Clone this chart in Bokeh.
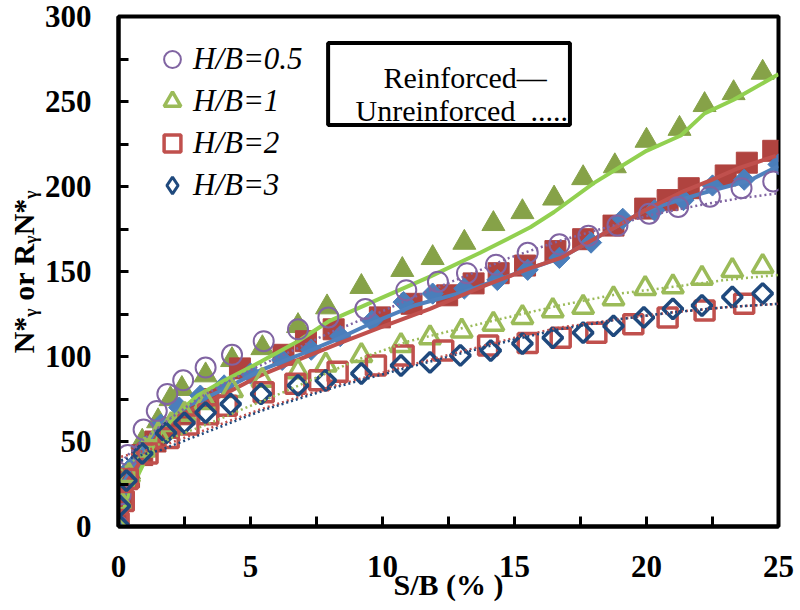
import math
from bokeh.plotting import figure
from bokeh.models import Range1d, FixedTicker, Legend, LegendItem, Label, BoxAnnotation
from bokeh.embed import file_html
from bokeh.resources import INLINE

# ---------------- data ----------------
x_ticks = [0, 5, 10, 15, 20, 25]
x_minor = [2.5, 7.5, 12.5, 17.5, 22.5]
y_ticks = [0, 50, 100, 150, 200, 250, 300]
y_minor = [25, 75, 125, 175, 225, 275]

# Unreinforced (open markers)
hb05_x = [0, 0.1, 0.35, 0.95, 1.45, 1.85, 2.45, 3.3, 4.3, 5.5, 6.8, 7.95, 9.35, 10.9, 12.1, 13.2, 14.3, 15.5, 16.7, 17.8, 18.9, 20.1, 21.2, 22.4, 23.6, 24.8]
hb05_y = [0, 19, 42, 57, 68, 78, 86, 93.5, 101, 109, 116, 123, 128, 139, 144, 149, 154, 161, 166, 171, 177, 184, 188, 194, 199, 203]

hb1_x = [0, 0.1, 0.4, 1.0, 1.5, 2.0, 2.5, 3.3, 4.3, 5.45, 6.8, 7.85, 9.2, 10.7, 11.8, 13.0, 14.2, 15.3, 16.45, 17.6, 18.75, 19.95, 21.0, 22.1, 23.25, 24.4]
hb1_y = [0, 14, 30, 45, 54, 60, 66, 73, 80, 86, 91, 95, 100.6, 106.5, 111, 115, 119, 123, 127, 129, 134, 140, 141, 146, 150.6, 153]

hb2_x = [0, 0.2, 0.35, 1.1, 1.9, 2.65, 3.4, 4.1, 5.5, 6.7, 7.6, 8.3, 9.75, 10.8, 12.3, 14.0, 15.5, 16.75, 18.1, 19.5, 20.8, 22.2, 23.7]
hb2_y = [2, 15, 28, 43, 52, 60, 66, 71, 79, 84, 86, 91, 94.7, 100.6, 103.5, 106.5, 108, 111, 114, 119, 123, 127, 131]

hb3_x = [0, 0.05, 0.3, 0.9, 1.8, 2.5, 3.3, 4.25, 5.4, 6.8, 7.85, 9.2, 10.7, 11.8, 12.95, 14.1, 15.3, 16.45, 17.6, 18.75, 19.9, 21.0, 22.1, 23.25, 24.4]
hb3_y = [1, 12, 27, 43, 55, 61, 67, 72, 78, 83, 86, 90, 94.7, 96.5, 100.6, 103.5, 107.6, 111, 114, 118, 123, 128, 130, 135, 137]

# Unreinforced trend lines (dotted)
t05_x = [0.1, 1, 2, 3, 4, 5, 6.8, 8, 9.9, 11.5, 13.1, 14.8, 16.7, 18.5, 20.1, 22, 23.5, 25]
t05_y = [38, 52, 64, 75, 84, 92, 105, 114, 126, 137, 147, 158, 168, 176, 183, 189, 193, 196]
t1_x = [0.1, 1, 2, 3.5, 5, 6.1, 8, 9.3, 11, 13.1, 15, 16.7, 19, 21, 23, 25]
t1_y = [33, 44, 52, 61, 71, 78, 91, 99.6, 109, 117, 124, 130, 137, 141, 145, 148]
t2_x = [0.1, 1.6, 3.5, 5.4, 8.0, 10.6, 13, 15, 16.7, 19, 21, 23, 25]
t2_y = [41, 47, 58, 69, 82, 93, 103, 111, 117, 122, 126, 129, 131]
t3_x = [0.1, 1.6, 3.5, 5.4, 8.0, 10.6, 13, 15, 16.7, 19, 21, 23, 25]
t3_y = [39, 45, 56.5, 68, 81, 92, 102, 110, 116, 122, 126, 129, 131]

# Reinforced (filled markers)
rf1_x = [0, 0.1, 0.4, 0.9, 1.5, 1.97, 2.4, 3.3, 4.3, 5.45, 6.8, 7.9, 9.2, 10.75, 11.9, 13.1, 14.2, 15.3, 16.5, 17.6, 18.8, 20.0, 21.25, 22.2, 23.3, 24.4]
rf1_y = [1, 15, 32, 50, 62, 75, 81, 89, 98, 105, 118, 129, 141, 151, 158, 167, 178, 185, 193, 205, 212, 227, 234, 248, 255, 267]
rf2_x = [0, 0.1, 0.4, 0.9, 1.4, 1.9, 2.5, 3.4, 4.6, 6.25, 7.1, 8.15, 9.9, 11.1, 12.45, 13.45, 14.4, 15.4, 16.55, 17.6, 18.75, 19.95, 20.8, 21.6, 23.0, 23.8, 24.8]
rf2_y = [2, 15, 29, 42, 50, 58, 66, 75, 93, 101, 109, 116, 123, 131, 136, 143, 149, 153.5, 162, 169, 177, 187, 192, 199, 206.5, 214, 221]
rf3_x = [0, 0.1, 0.5, 1.0, 1.6, 2.3, 3.1, 4.0, 5.0, 6.2, 7.3, 8.4, 9.6, 10.8, 11.9, 13.1, 14.35, 15.5, 16.7, 17.9, 19.1, 20.3, 21.4, 22.5, 23.7, 25.0]
rf3_y = [2, 22, 35, 47, 60, 70, 77, 83, 90, 98, 104, 112, 121, 132, 137, 140, 145, 151, 158, 167, 181, 186, 192, 200.6, 204, 213]

# Reinforced curves (solid)
l1_x = [0.15, 0.45, 0.95, 1.6, 2.2, 3.0, 3.9, 5.4, 6.8, 8.0, 9.9, 11.8, 13.7, 15.6, 16.5, 18.0, 20.0, 21.3, 22.2, 23.3, 25.0]
l1_y = [8, 21, 37, 55, 66, 77, 85, 97, 109, 121, 134, 147, 161, 176, 185, 202, 221, 230, 243, 251, 266]
l2_x = [0.05, 0.95, 1.6, 2.4, 3.9, 5.4, 6.8, 8.4, 9.9, 11.8, 13.7, 15.6, 16.75, 19.95, 21.3, 22.4, 23.45, 24.9]
l2_y = [20, 41, 56, 66, 77, 89, 98, 108, 117, 128, 140.6, 152, 158, 186, 196.5, 203.5, 210.6, 218]
l3_x = [0.05, 0.95, 1.6, 2.2, 3.2, 3.9, 5.4, 6.8, 8.4, 9.5, 11.2, 13.1, 14.35, 16.75, 19.95, 22.1, 23.9, 25.0]
l3_y = [22, 46, 60, 68, 75, 80, 92, 100.6, 111, 119, 130, 138, 145, 158, 186, 196, 203.5, 212]

labels = ["H/B=0.5", "H/B=1", "H/B=2", "H/B=3"]

# colours
C_PURPLE = "#8064A2"
C_LGREEN = "#9BBB59"
C_RED = "#C0504D"
C_NAVY = "#1F497D"
C_OLIVE = "#86A248"
C_DRED = "#B0433F"
C_BLUE = "#4A7EBB"
C_BGREEN = "#92D050"
C_LBLUE = "#4F81BD"

SERIF = "Liberation Serif"

p = figure(width=800, height=610, output_backend="svg", toolbar_location=None,
           x_range=Range1d(0, 25), y_range=Range1d(0, 300),
           min_border_left=118, min_border_right=22, min_border_top=16, min_border_bottom=84)
p.xgrid.visible = False
p.ygrid.visible = False
p.outline_line_color = "black"
p.outline_line_width = 4
p.background_fill_color = "white"
p.border_fill_color = "white"

for ax in (p.xaxis[0], p.yaxis[0]):
    ax.axis_line_width = 4
    ax.axis_line_color = "black"
    ax.major_tick_in = 10
    ax.major_tick_out = 0
    ax.minor_tick_in = 10
    ax.minor_tick_out = 0
    ax.major_tick_line_width = 3
    ax.minor_tick_line_width = 3
    ax.major_label_text_font = SERIF
    ax.major_label_text_font_style = "bold"
    ax.major_label_text_font_size = "31px"
    ax.major_label_text_color = "black"
    ax.axis_label_text_font = SERIF
    ax.axis_label_text_font_style = "bold"
    ax.axis_label_text_font_size = "30px"
    ax.axis_label_text_color = "black"
p.xaxis.ticker = FixedTicker(ticks=x_ticks, minor_ticks=x_minor)
p.yaxis.ticker = FixedTicker(ticks=y_ticks, minor_ticks=y_minor)
p.xaxis.major_label_standoff = 29
p.yaxis.major_label_standoff = 27
p.xaxis.axis_label = "S/B (% )"
p.xaxis.axis_label_standoff = -12
p.yaxis.axis_label = "N*\u1d67 or R\u1d67N*\u1d67"
p.yaxis.axis_label_standoff = 2

# reinforced markers
p.scatter(rf1_x, rf1_y, marker="triangle", size=23, fill_color=C_OLIVE, line_color=C_OLIVE)
p.scatter(rf2_x, rf2_y, marker="square", size=21, fill_color=C_DRED, line_color=C_DRED)
p.scatter(rf3_x, rf3_y, marker="square", angle=math.pi / 4, size=15, fill_color=C_BLUE, line_color=C_BLUE)
# reinforced curves
p.line(l3_x, l3_y, line_color=C_LBLUE, line_width=4)
p.line(l2_x, l2_y, line_color=C_RED, line_width=4)
p.line(l1_x, l1_y, line_color=C_BGREEN, line_width=4)

# unreinforced markers
r05 = p.scatter(hb05_x, hb05_y, marker="circle", size=20, fill_color=None, line_color=C_PURPLE, line_width=2)
r1 = p.scatter(hb1_x, hb1_y, marker="triangle", size=21, fill_color=None, line_color=C_LGREEN, line_width=3.5)
r2 = p.scatter(hb2_x, hb2_y, marker="square", size=19, fill_color=None, line_color=C_RED, line_width=3.5)
r3 = p.scatter(hb3_x, hb3_y, marker="square", angle=math.pi / 4, size=14, fill_color=None, line_color=C_NAVY, line_width=3.5)
# legend-only glyph for the diamond series (legend glyphs are drawn unrotated)
r3_key = p.scatter(hb3_x, hb3_y, marker="diamond", size=20, fill_color=None, line_color=C_NAVY,
                   line_width=3, visible=False)

# unreinforced trends
p.line(t05_x, t05_y, line_color=C_PURPLE, line_width=2.5, line_dash="2 3")
p.line(t1_x, t1_y, line_color=C_LGREEN, line_width=2.5, line_dash="2 3")
p.line(t2_x, t2_y, line_color=C_RED, line_width=2.5, line_dash="2 3")
p.line(t3_x, t3_y, line_color=C_NAVY, line_width=2.5, line_dash="2 3")

legend = Legend(items=[LegendItem(label=labels[0], renderers=[r05]),
                       LegendItem(label=labels[1], renderers=[r1]),
                       LegendItem(label=labels[2], renderers=[r2]),
                       LegendItem(label=labels[3], renderers=[r3_key])],
                location=(33, 320), padding=0, margin=0, spacing=0,
                glyph_width=42, glyph_height=42, label_height=42, label_standoff=-12,
                border_line_color=None, background_fill_alpha=0, inactive_fill_alpha=0,
                click_policy="none",
                label_text_font=SERIF, label_text_font_style="italic",
                label_text_font_size="31px", label_text_color="black")
p.add_layout(legend, "center")

# line-style key box
box = BoxAnnotation(left=7.94, right=17.10, top=284.4, bottom=236.2,
                    fill_color="white", fill_alpha=1, line_color="black", line_alpha=1, line_width=4)
p.add_layout(box)
for txt, sx, sy in [("Reinforced\u2014", 265, 449), ("Unreinforced\u00a0 .....", 237, 416)]:
    p.add_layout(Label(x=sx, y=sy, x_units="screen", y_units="screen", text=txt,
                       text_font=SERIF, text_font_size="30px", text_color="black",
                       text_align="left", text_baseline="alphabetic"))

open("out.html", "w").write(file_html(p, INLINE))
